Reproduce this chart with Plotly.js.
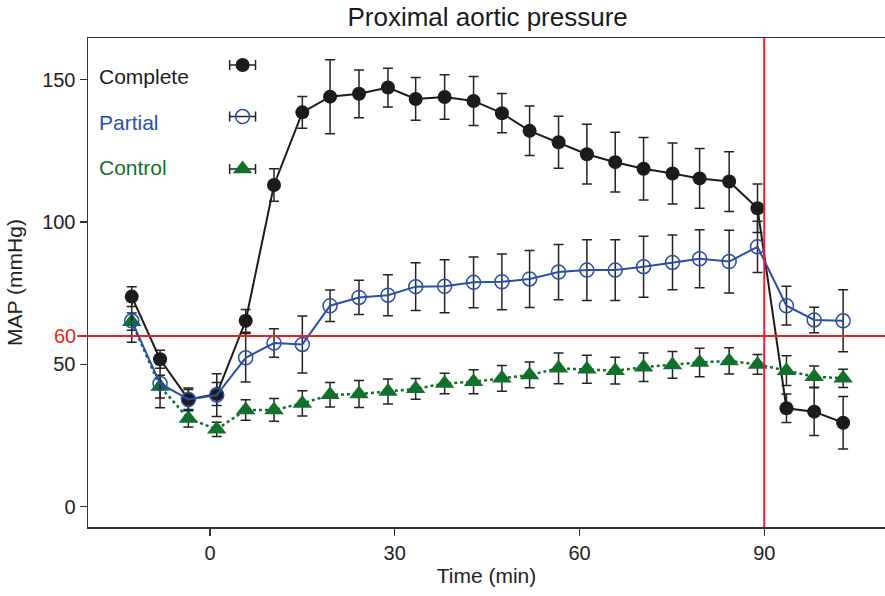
<!DOCTYPE html>
<html>
<head>
<meta charset="utf-8">
<script src="https://cdn.plot.ly/plotly-3.0.1.min.js"></script>
<style>html,body{margin:0;padding:0;background:#fff}#chart{width:885px;height:596px}</style>
</head>
<body>
<div id="chart"></div>
<script>
// ---- Data ----
const times = [-12.7, -8.1, -3.5, 1.1, 5.8, 10.4, 15.0, 19.5, 24.2, 28.9, 33.4, 38.1, 42.8, 47.4, 51.9, 56.6, 61.2, 65.8, 70.4, 75.1, 79.5, 84.3, 88.9, 93.6, 98.1, 102.8];

const complete    = [73.8, 51.8, 37.7, 39.6, 65.3, 113.0, 138.5, 144.0, 145.0, 147.2, 143.2, 143.9, 142.5, 138.2, 132.0, 128.0, 123.8, 121.0, 118.7, 117.0, 115.3, 114.2, 104.8, 34.6, 33.4, 29.5];
const completeErr = [3.5, 3.2, 3.5, 4.0, 4.0, 5.7, 5.6, 13.0, 8.4, 6.8, 7.5, 7.8, 8.6, 6.9, 8.7, 9.1, 10.5, 10.5, 11.0, 10.7, 10.5, 10.5, 8.5, 5.0, 8.4, 9.2];

const partial    = [65.3, 43.3, 37.7, 39.2, 52.3, 57.5, 57.0, 70.6, 73.5, 74.3, 77.3, 77.4, 78.8, 79.0, 80.0, 82.4, 83.1, 83.1, 84.3, 85.8, 87.1, 86.1, 91.3, 70.6, 65.6, 65.3];
const partialErr = [7.5, 8.5, 4.0, 7.5, 8.5, 5.0, 10.0, 5.5, 6.0, 7.2, 8.4, 9.3, 8.9, 9.8, 10.0, 9.7, 10.7, 10.7, 10.7, 9.6, 10.2, 11.0, 9.0, 6.8, 4.5, 10.9];

const control    = [65.0, 42.2, 31.0, 27.2, 34.0, 34.0, 36.3, 39.3, 39.6, 40.5, 41.4, 43.3, 43.9, 45.1, 46.3, 48.6, 48.3, 47.8, 49.0, 49.8, 50.7, 51.2, 50.0, 47.8, 45.7, 45.1];
const controlErr = [3.0, 4.0, 3.0, 2.5, 3.6, 4.0, 4.4, 4.3, 4.7, 4.4, 3.6, 3.6, 4.2, 4.5, 4.5, 5.4, 4.9, 4.7, 5.0, 4.7, 5.0, 4.6, 3.5, 5.2, 3.7, 3.2];

const seriesNames = ["Complete", "Partial", "Control"];
const xTicks = [0, 30, 60, 90];
const yTicks = [0, 50, 100, 150];
const thresholdMAP = 60;
const clampTime = 90;

// legend key (drawn inside plot, text left of key)
const legendKeyX = [5.3, 5.3, 5.3];
const legendKeyY = [155.1, 137.0, 118.6];
const legendKeyErr = 2.1;

// ---- Styles ----
const BLACK = "#1b1b1b", BLUE = "#2b4ea6", GREEN = "#11702c", RED = "#ee1c25", ERR = "#222222";
const FONT = "Liberation Sans, Arial, Helvetica, sans-serif";

function errY(arr) { return {type: "data", array: arr, visible: true, color: ERR, thickness: 1.5, width: 5}; }

const traces = [
  {x: times, y: complete, name: seriesNames[0], type: "scatter", mode: "lines+markers",
   line: {color: BLACK, width: 2}, marker: {symbol: "circle", size: 14, color: BLACK},
   error_y: errY(completeErr), showlegend: false},
  {x: times, y: control, name: seriesNames[2], type: "scatter", mode: "lines+markers",
   line: {color: GREEN, width: 2.5, dash: "dot"}, marker: {symbol: "triangle-up", size: 17, color: GREEN},
   error_y: errY(controlErr), showlegend: false},
  {x: times, y: partial, name: seriesNames[1], type: "scatter", mode: "lines+markers",
   line: {color: BLUE, width: 2}, marker: {symbol: "circle-open", size: 14, color: BLUE, line: {width: 1.5, color: BLUE}},
   error_y: errY(partialErr), showlegend: false},
  // legend keys
  {x: [legendKeyX[0]], y: [legendKeyY[0]], mode: "markers", type: "scatter", hoverinfo: "skip", showlegend: false,
   marker: {symbol: "circle", size: 14, color: BLACK},
   error_x: {type: "constant", value: legendKeyErr, color: ERR, thickness: 1.5, width: 5}},
  {x: [legendKeyX[1]], y: [legendKeyY[1]], mode: "markers", type: "scatter", hoverinfo: "skip", showlegend: false,
   marker: {symbol: "circle-open", size: 14, color: BLUE, line: {width: 1.5, color: BLUE}},
   error_x: {type: "constant", value: legendKeyErr, color: ERR, thickness: 1.5, width: 5}},
  {x: [legendKeyX[2]], y: [legendKeyY[2]], mode: "markers", type: "scatter", hoverinfo: "skip", showlegend: false,
   marker: {symbol: "triangle-up", size: 17, color: GREEN},
   error_x: {type: "constant", value: legendKeyErr, color: ERR, thickness: 1.5, width: 5}}
];

const legendColors = [BLACK, BLUE, GREEN];
const legendTextY = [0.922, 0.828, 0.736];

const annotations = seriesNames.map((n, i) => ({
  text: n, xref: "paper", yref: "paper", x: 0.0113, y: legendTextY[i],
  xanchor: "left", yanchor: "middle", showarrow: false,
  font: {family: FONT, size: 21, color: legendColors[i]}
}));
annotations.push({
  text: String(thresholdMAP), xref: "paper", yref: "y", x: -0.0125, y: thresholdMAP,
  xanchor: "right", yanchor: "middle", showarrow: false,
  font: {family: FONT, size: 20, color: RED}
});

const layout = {
  width: 885, height: 596,
  margin: {l: 88, r: 0, t: 38, b: 69},
  paper_bgcolor: "#fff", plot_bgcolor: "#fff",
  font: {family: FONT, color: "#222"},
  title: {text: "Proximal aortic pressure", font: {family: FONT, size: 26, color: "#1a1a1a"},
          x: 0.551, xanchor: "center", y: 0.971, yref: "container", yanchor: "middle"},
  xaxis: {range: [-19.8, 109.6], tickvals: xTicks, ticks: "outside", ticklen: 7, tickwidth: 1.3, tickcolor: "#333",
          showline: true, linecolor: "#333", linewidth: 1.5, mirror: true, showgrid: false, zeroline: false,
          tickfont: {family: FONT, size: 20, color: "#222"},
          title: {text: "Time (min)", font: {family: FONT, size: 21, color: "#222"}, standoff: 6}},
  yaxis: {range: [-7.1, 164.6], tickvals: yTicks, ticks: "outside", ticklen: 7, tickwidth: 1.3, tickcolor: "#333",
          showline: true, linecolor: "#333", linewidth: 1.5, mirror: false, showgrid: false, zeroline: false,
          tickfont: {family: FONT, size: 20, color: "#222"},
          title: {text: "MAP (mmHg)", font: {family: FONT, size: 21, color: "#222"}, standoff: 14}},
  shapes: [
    {type: "line", xref: "paper", yref: "y", x0: -0.0135, x1: 1, y0: thresholdMAP, y1: thresholdMAP,
     line: {color: RED, width: 2}, layer: "above"},
    {type: "line", xref: "x", yref: "paper", x0: clampTime, x1: clampTime, y0: 0, y1: 1,
     line: {color: RED, width: 2}, layer: "above"}
  ],
  annotations: annotations,
  showlegend: false
};

Plotly.newPlot("chart", traces, layout, {displayModeBar: false, staticPlot: true});
</script>
</body>
</html>
